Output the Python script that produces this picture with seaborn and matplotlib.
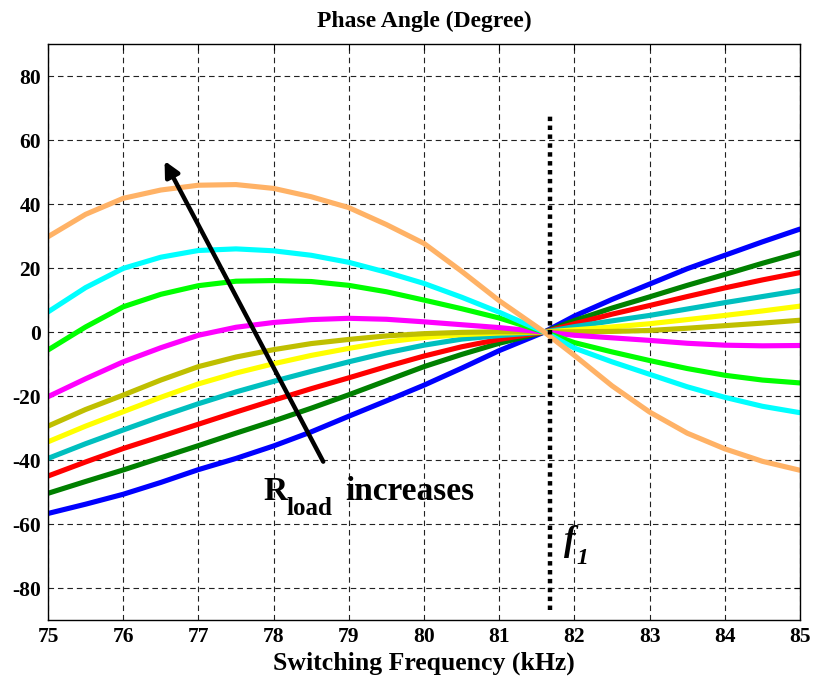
import numpy as np
import pandas as pd
import matplotlib
matplotlib.use("Agg")
import matplotlib.pyplot as plt
import seaborn as sns

freq = [75, 75.5, 76, 76.5, 77, 77.5, 78, 78.5, 79, 79.5, 80, 80.5, 81, 81.6,
        82, 82.5, 83, 83.5, 84, 84.5, 85]
blue = [-56.7, -53.8, -50.7, -47.0, -43.0, -39.5, -35.6, -31.2, -26.3, -21.5, -16.6,
        -11.3, -5.8, 0, 5.0, 10.2, 15.0, 19.8, 24.0, 28.2, 32.2]
darkgreen = [-50.4, -46.7, -43.1, -39.3, -35.5, -31.6, -27.8, -23.8, -19.6, -15.2, -10.8,
             -7.0, -3.5, 0, 3.6, 7.5, 11.0, 14.6, 18.0, 21.5, 24.8]
red = [-45.0, -40.6, -36.4, -32.6, -28.8, -25.0, -21.3, -17.7, -14.3, -10.8, -7.5,
       -4.6, -2.3, 0, 2.6, 5.6, 8.3, 11.1, 13.8, 16.3, 18.6]
teal = [-39.5, -34.9, -30.6, -26.4, -22.4, -18.7, -15.4, -12.3, -9.3, -6.5, -4.1,
        -2.2, -1.1, 0, 1.7, 3.5, 5.2, 7.2, 9.2, 11.1, 13.0]
yellow = [-34.3, -29.4, -24.9, -20.4, -16.2, -12.8, -9.9, -7.3, -5.1, -3.1, -1.7,
          -0.8, -0.3, 0, 0.7, 1.6, 2.6, 3.9, 5.2, 6.6, 8.1]
olive = [-29.4, -24.2, -19.7, -15.0, -10.8, -7.8, -5.5, -3.6, -2.3, -1.2, -0.5,
         -0.1, 0.1, 0, 0.1, 0.2, 0.5, 1.2, 2.0, 2.8, 3.7]
magenta = [-20.2, -14.6, -9.3, -4.9, -1.0, 1.5, 3.0, 3.9, 4.3, 4.0, 3.2,
           2.3, 1.4, 0, -1.0, -1.8, -2.6, -3.5, -4.1, -4.3, -4.2]
green = [-5.6, 1.6, 7.9, 11.8, 14.5, 15.9, 16.1, 15.8, 14.6, 12.6, 10.0,
         7.3, 4.4, 0, -3.3, -6.2, -8.9, -11.4, -13.5, -15.0, -15.9]
cyan = [6.3, 13.9, 19.9, 23.4, 25.5, 26.0, 25.4, 24.0, 21.8, 18.7, 15.2,
        10.9, 6.2, 0, -5.0, -9.3, -13.2, -17.1, -20.4, -23.2, -25.2]
orange = [29.8, 36.8, 41.8, 44.4, 45.9, 46.1, 44.9, 42.3, 38.9, 33.6, 27.7,
          19.0, 9.8, 0, -7.3, -16.8, -25.0, -31.6, -36.5, -40.4, -43.2]

series_names = ["blue", "darkgreen", "red", "teal", "yellow", "olive",
                "magenta", "green", "cyan", "orange"]
series_vals = [blue, darkgreen, red, teal, yellow, olive, magenta, green, cyan, orange]
colors = ["#0000FF", "#008000", "#FF0000", "#00BFBF", "#FFFF00", "#BFBF00",
          "#FF00FF", "#00FF00", "#00FFFF", "#FFB266"]

xticks = [75, 76, 77, 78, 79, 80, 81, 82, 83, 84, 85]
yticks = [-80, -60, -40, -20, 0, 20, 40, 60, 80]
f1_x = 81.67

sns.set_style("white")
plt.rcParams["font.family"] = ["Liberation Serif", "DejaVu Serif"]
plt.rcParams["font.weight"] = "bold"
plt.rcParams["lines.solid_joinstyle"] = "round"
for k in ["text.color", "axes.labelcolor", "xtick.color", "ytick.color"]:
    plt.rcParams[k] = "black"

rows = []
for name, vals in zip(series_names, series_vals):
    for f, v in zip(freq, vals):
        rows.append({"freq": f, "phase": v, "curve": name})
df = pd.DataFrame(rows)

fig = plt.figure(figsize=(8.15, 6.79), dpi=100)
ax = fig.add_axes([0.0589, 0.0869, 0.9227, 0.8481])

sns.lineplot(data=df, x="freq", y="phase", hue="curve", hue_order=series_names,
             palette=dict(zip(series_names, colors)), linewidth=3.7, sort=False,
             legend=False, ax=ax)
for ln in ax.get_lines():
    ln.set_solid_joinstyle("round")

ax.set_xlim(75, 85)
ax.set_ylim(-90, 90)
ax.set_xticks(xticks)
ax.set_yticks(yticks)
ax.set_xticklabels([str(t) for t in xticks], fontsize=15.5, fontweight="bold")
ax.set_yticklabels([str(t) for t in yticks], fontsize=15.5, fontweight="bold")
ax.grid(True, color="#222222", linestyle=(0, (5, 3.5)), linewidth=0.8)
ax.tick_params(direction="in", top=True, right=True, length=4, width=0.8,
               color="black", pad=5)
for s in ax.spines.values():
    s.set_color("black")
    s.set_linewidth(1.0)

ax.set_xlabel("Switching Frequency (kHz)", fontsize=18.5, fontweight="bold", labelpad=3)
ax.set_ylabel("")
ax.set_title("Phase Angle (Degree)", fontsize=17, fontweight="bold", pad=12)

# dotted f1 marker line
ax.plot([f1_x, f1_x], [-87, 68.5], color="black", linestyle=(0, (1, 1)), linewidth=3.2)

# arrow
ax.annotate("", xy=(76.55, 53.5), xytext=(78.66, -40.5),
            arrowprops=dict(arrowstyle="-|>,head_length=0.9,head_width=0.45",
                            color="black", lw=3.2, shrinkA=0, shrinkB=0))

ax.text(77.86, -52.5, "R", fontsize=24, fontweight="bold", ha="left", va="baseline")
ax.text(78.17, -57.3, "load", fontsize=18, fontweight="bold", ha="left", va="baseline")
ax.text(78.95, -52.5, "increases", fontsize=24, fontweight="bold", ha="left", va="baseline")
ax.text(81.86, -68.0, "f", fontsize=25, fontweight="bold", fontstyle="italic",
        ha="left", va="baseline")
ax.text(82.03, -72.5, "1", fontsize=17, fontweight="bold", fontstyle="italic",
        ha="left", va="baseline")

fig.savefig("out.png", dpi=100)
